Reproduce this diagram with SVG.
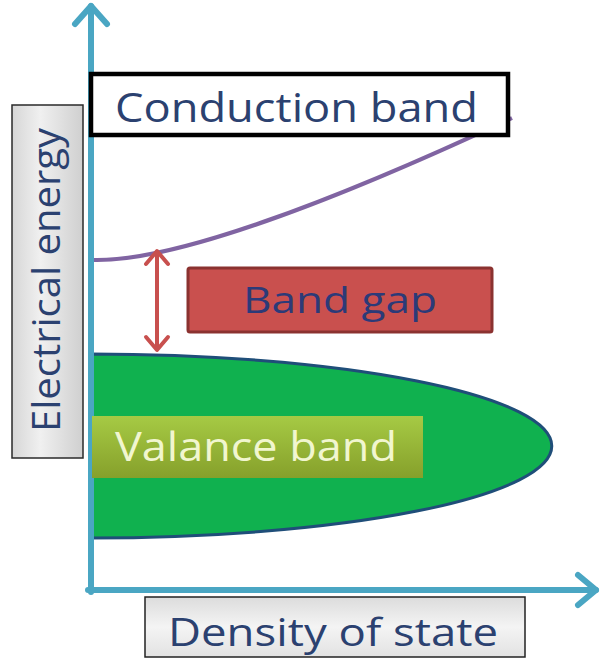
<svg xmlns="http://www.w3.org/2000/svg" width="600" height="659" viewBox="0 0 600 659">
<defs>
<style>
.t{font-family:"Open Sans","Liberation Sans",sans-serif;}
.navy{fill:#2b4170;}
.axis{stroke:#4aa6c3;stroke-width:6;fill:none;stroke-linecap:round;stroke-linejoin:round;}
.gap{stroke:#c8504e;stroke-width:4;fill:none;stroke-linecap:round;stroke-linejoin:round;}
</style>
<linearGradient id="grayH" x1="0" y1="0" x2="1" y2="0">
<stop offset="0" stop-color="#d6d6d6"/>
<stop offset="0.4" stop-color="#f0f0f0"/>
<stop offset="1" stop-color="#cfcfcf"/>
</linearGradient>
<linearGradient id="grayV" x1="0" y1="0" x2="0" y2="1">
<stop offset="0" stop-color="#dcdcdc"/>
<stop offset="0.5" stop-color="#f4f4f4"/>
<stop offset="1" stop-color="#e2e2e2"/>
</linearGradient>
<linearGradient id="olive" x1="0" y1="0" x2="0" y2="1">
<stop offset="0" stop-color="#a6ca44"/>
<stop offset="1" stop-color="#86a02b"/>
</linearGradient>
</defs>

<g id="valence-band-shape">
<path d="M91,354 A461,92 0 0 1 91,538 Z" fill="#10b14f" stroke="#1f4e79" stroke-width="3"/>
</g>

<g id="conduction-curve">
<path d="M91,260 C170,263 330,203 512,118" fill="none" stroke="#8064a2" stroke-width="4"/>
</g>

<g id="connectors">
<path class="axis" d="M91,592 L91,6"/>
<path class="axis" d="M75,24 L91,6 L107,24"/>
<path class="axis" d="M88,590 L596,590"/>
<path class="axis" d="M578,575 L596,590 L578,605"/>
<path class="gap" d="M157,252 L157,348"/>
<path class="gap" d="M146,264 L157,251 L168,264"/>
<path class="gap" d="M146,337 L157,350 L168,337"/>
</g>

<g id="electrical-energy">
<rect x="12" y="105" width="71" height="353" fill="url(#grayH)" stroke="#2a2a2a" stroke-width="1.5"/>
<text class="t navy" transform="translate(60,432) rotate(-90)" font-size="38" textLength="304" lengthAdjust="spacingAndGlyphs">Electrical energy</text>
</g>

<g id="conduction-band">
<rect x="91" y="74" width="417" height="61" fill="#ffffff" stroke="#000000" stroke-width="4.5"/>
<text class="t navy" x="115" y="122" font-size="41" textLength="363" lengthAdjust="spacingAndGlyphs">Conduction band</text>
</g>

<g id="band-gap">
<rect x="188" y="268" width="304" height="64" rx="2" fill="#c9504e" stroke="#8b3230" stroke-width="3"/>
<text class="t" x="243" y="313" font-size="36" fill="#2c3a78" textLength="194" lengthAdjust="spacingAndGlyphs">Band gap</text>
</g>

<g id="valance-band">
<rect x="92" y="416" width="331" height="62" fill="url(#olive)"/>
<text class="t" x="115" y="461" font-size="40" fill="#f1f6cf" textLength="282" lengthAdjust="spacingAndGlyphs">Valance band</text>
</g>

<g id="density-of-state">
<rect x="145" y="597" width="380" height="60" fill="url(#grayV)" stroke="#222222" stroke-width="1.5"/>
<text class="t navy" x="168" y="646" font-size="39" textLength="330" lengthAdjust="spacingAndGlyphs">Density of state</text>
</g>
</svg>
